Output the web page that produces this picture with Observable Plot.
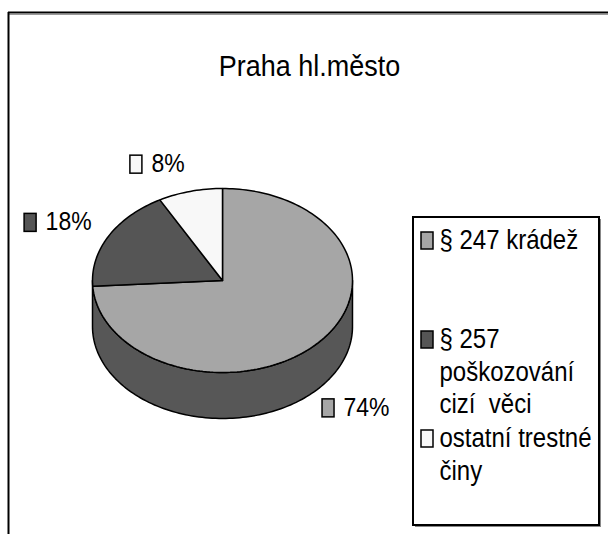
<!DOCTYPE html>
<html>
<head>
<meta charset="utf-8">
<script src="https://cdn.jsdelivr.net/npm/d3@7"></script>
<script src="https://cdn.jsdelivr.net/npm/@observablehq/plot@0.6"></script>
<style>
  html, body { margin: 0; padding: 0; background: #fff; }
  #chart svg { display: block; }
</style>
</head>
<body>
<div id="chart"></div>
<script>
// ---- data ----
const title = "Praha hl.město";
const categories = ["§ 247 krádež", "§ 257 poškozování cizí věci", "ostatní trestné činy"];
const legendLabels = ["§ 247 krádež", "§ 257\npoškozování\ncizí  věci", "ostatní trestné\nčiny"];
const values = [74, 18, 8];
const percentLabels = ["74%", "18%", "8%"];
const colors = ["#a6a6a6", "#555555", "#f8f8f8"];
const sideColor = "#575757";

// ---- layout ----
const W = 608, H = 534;
const pie = {cx: 222, cy: 280, rx: 130, ry: 92, depth: 46};
const FONT = "'Liberation Sans', Arial, sans-serif";
const STRETCH = 1.12;

const total = d3.sum(values);
let acc = 0;
const slices = values.map((v, i) => {
  const a0 = acc / total * 2 * Math.PI;
  acc += v;
  const a1 = acc / total * 2 * Math.PI;
  return {i, v, a0, a1, name: categories[i], color: colors[i], label: percentLabels[i]};
});

const P = (a, dy = 0) => ({x: pie.cx + pie.rx * Math.sin(a), y: pie.cy - pie.ry * Math.cos(a) + dy});
function arcPts(a0, a1, dy = 0) {
  const n = Math.max(2, Math.ceil(Math.abs(a1 - a0) / (2 * Math.PI) * 240));
  return d3.range(n + 1).map(k => P(a0 + (a1 - a0) * k / n, dy));
}
const center = {x: pie.cx, y: pie.cy};

// side (front half of the cylinder)
const sideTop = arcPts(Math.PI / 2, 3 * Math.PI / 2, 0);
const sideBottom = arcPts(Math.PI / 2, 3 * Math.PI / 2, pie.depth).reverse();
const sidePts = [...sideTop, ...sideBottom, sideTop[0]];

// labels
const ctx = document.createElement("canvas").getContext("2d");
ctx.font = "23px " + FONT;
const labelData = slices.map(s => {
  const mid = (s.a0 + s.a1) / 2;
  const sn = Math.sin(mid), cs = Math.cos(mid);
  const ax = pie.cx + 1.14 * pie.rx * sn;
  const ay = pie.cy - 1.3 * pie.ry * cs + (cs < 0 ? pie.depth : 0);
  const tw = ctx.measureText(s.label).width;
  const boxX = sn < 0 ? ax - (22 + tw) : ax - 8;
  return {label: s.label, color: s.color, bx1: boxX, bx2: boxX + 12, by1: ay - 9, by2: ay + 9, tx: boxX + 21, ty: ay - 1};
});

// legend
const legend = {x1: 413, x2: 599, y1: 217, y2: 525, top: 232, pitch: 99};
const legendData = slices.map((s, i) => ({
  text: legendLabels[i], color: s.color,
  mx1: legend.x1 + 8, mx2: legend.x1 + 20,
  my1: legend.top + i * legend.pitch, my2: legend.top + i * legend.pitch + 17,
  tx: legend.x1 + 26, ty: legend.top + i * legend.pitch - 6
}));

const marks = [
  // outer frame (left and top edges visible)
  Plot.ruleY([12], {x1: 8, x2: W, stroke: "#000", strokeWidth: 2}),
  Plot.ruleY([14], {x1: 9, x2: W, stroke: "#999", strokeWidth: 1}),
  Plot.ruleX([8], {y1: 12, y2: H, stroke: "#000", strokeWidth: 2}),
  // title
  Plot.text([title], {x: 309, y: 66, text: d => d, fontSize: 27, fontFamily: FONT, fill: "#000", textAnchor: "middle"}),
  // pie side
  Plot.line(sidePts, {x: "x", y: "y", fill: sideColor, stroke: "#000", strokeWidth: 1.5, curve: "linear"}),
  // pie top slices
  ...slices.map(s => Plot.line([center, ...arcPts(s.a0, s.a1), center], {x: "x", y: "y", fill: s.color, stroke: "#000", strokeWidth: 1.5, strokeLinejoin: "miter"})),
  // data labels
  Plot.rect(labelData, {x1: "bx1", x2: "bx2", y1: "by1", y2: "by2", fill: d => d.color, stroke: "#000", strokeWidth: 1.5}),
  Plot.text(labelData, {x: "tx", y: "ty", text: "label", fontSize: 23, fontFamily: FONT, fill: "#000", textAnchor: "start"}),
  // legend
  Plot.rect([legend], {x1: d => d.x1 + 2, x2: d => d.x2 + 2, y1: d => d.y1 + 2, y2: d => d.y2 + 2, fill: "#888"}),
  Plot.rect([legend], {x1: "x1", x2: "x2", y1: "y1", y2: "y2", fill: "#fff", stroke: "#000", strokeWidth: 2}),
  Plot.rect(legendData, {x1: "mx1", x2: "mx2", y1: "my1", y2: "my2", fill: d => d.color, stroke: "#000", strokeWidth: 1.5}),
  Plot.text(legendData, {x: "tx", y: "ty", text: "text", fontSize: 24, fontFamily: FONT, fill: "#000", textAnchor: "start", lineAnchor: "top", lineHeight: 1.2})
];

const chart = Plot.plot({
  width: W, height: H,
  margin: 0,
  x: {domain: [0, W], range: [0, W], axis: null},
  y: {domain: [0, H], range: [0, H], axis: null},
  style: {background: "#fff", overflow: "visible"},
  marks
});
// slightly taller glyphs, as in the reference's rendering
chart.querySelectorAll("text").forEach(t => {
  const tr = t.getAttribute("transform");
  if (tr) t.setAttribute("transform", tr + ` scale(1,${STRETCH})`);
});
document.getElementById("chart").append(chart);
</script>
</body>
</html>
